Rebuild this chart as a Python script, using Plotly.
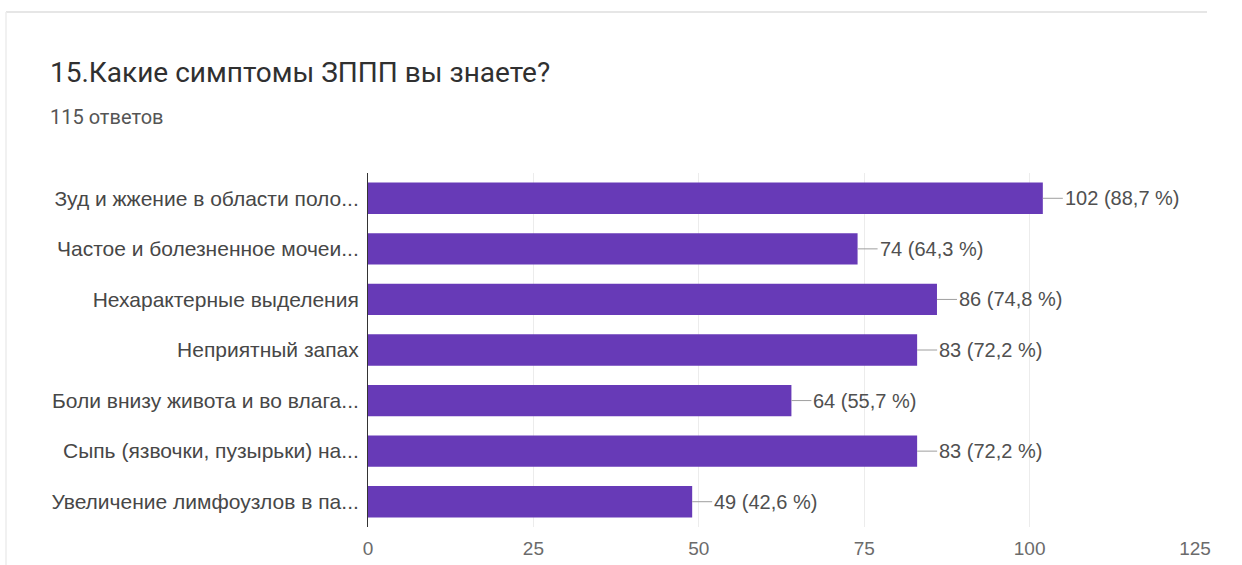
import plotly.graph_objects as go

# Survey question, answers and counts
title = "15.Какие симптомы ЗППП вы знаете?"
subtitle = "115 ответов"
categories = [
    "Зуд и жжение в области поло...",
    "Частое и болезненное мочеи...",
    "Нехарактерные выделения",
    "Неприятный запах",
    "Боли внизу живота и во влага...",
    "Сыпь (язвочки, пузырьки) на...",
    "Увеличение лимфоузлов в па...",
]
counts = [102, 74, 86, 83, 64, 83, 49]
percents = ["88,7", "64,3", "74,8", "72,2", "55,7", "72,2", "42,6"]
x_ticks = [0, 25, 50, 75, 100, 125]

W, H = 1242, 565
ML, MR, MT, MB = 368, 47, 173, 38
BAR_COLOR = "#673ab7"
LABEL_FONT = "Liberation Sans, Arial, sans-serif"


def px_to_paper(px, py):
    """Convert page pixel coordinates to paper coordinates."""
    return ((px - ML) / (W - ML - MR), 1 - (py - MT) / (H - MT - MB))


fig = go.Figure(
    go.Bar(
        x=counts,
        y=categories,
        orientation="h",
        marker=dict(color=BAR_COLOR, line=dict(width=0)),
        hoverinfo="skip",
    )
)

# Value labels joined to the bar end by a short leader line
for cat, n, p in zip(categories, counts, percents):
    fig.add_annotation(
        x=n, y=cat, xref="x", yref="y",
        text=f"{n} ({p} %)",
        showarrow=True, arrowhead=0, arrowwidth=1, arrowcolor="#9e9e9e",
        ax=20, ay=0, standoff=0, xanchor="left",
        font=dict(family=LABEL_FONT, size=20, color="#505050"),
    )

# Header: question and number of responses
tx, ty = px_to_paper(48, 72)
fig.add_annotation(
    x=tx, y=ty, xref="paper", yref="paper", text=title, showarrow=False,
    xanchor="left", yanchor="middle",
    font=dict(family="Roboto, sans-serif", size=28, color="#303030"),
)
sx, sy = px_to_paper(48, 117)
fig.add_annotation(
    x=sx, y=sy, xref="paper", yref="paper", text=subtitle, showarrow=False,
    xanchor="left", yanchor="middle",
    font=dict(family="Roboto, sans-serif", size=20, color="#555555"),
)

# Card edges: top shadow line and faint left edge
lx0, ly0 = px_to_paper(6, 12)
lx1, _ = px_to_paper(1207, 12)
_, ly1 = px_to_paper(6, 565)
fig.add_shape(type="line", xref="paper", yref="paper",
              x0=lx0, x1=lx1, y0=ly0, y1=ly0,
              line=dict(color="#dedede", width=1.5), layer="below")
fig.add_shape(type="line", xref="paper", yref="paper",
              x0=lx0, x1=lx0, y0=ly0, y1=ly1,
              line=dict(color="#ececec", width=1.5), layer="below")

fig.update_layout(
    width=W, height=H,
    margin=dict(l=ML, r=MR, t=MT, b=MB),
    paper_bgcolor="white", plot_bgcolor="white",
    bargap=0.38,
    showlegend=False,
    xaxis=dict(
        range=[0, 125], tickvals=x_ticks, ticktext=[str(v) for v in x_ticks],
        showgrid=True, gridcolor="#ececec", gridwidth=1, zeroline=False,
        showline=False, ticks="", ticklabelstandoff=8, automargin=False,
        tickfont=dict(family=LABEL_FONT, size=19, color="#6b6b6b"),
        fixedrange=True,
    ),
    yaxis=dict(
        autorange="reversed", showgrid=False, ticks="", ticklabelstandoff=4,
        automargin=False,
        showline=True, linecolor="#333333", linewidth=1,
        tickfont=dict(family=LABEL_FONT, size=21, color="#474747"),
        fixedrange=True,
    ),
)

fig.write_html("out.html")
